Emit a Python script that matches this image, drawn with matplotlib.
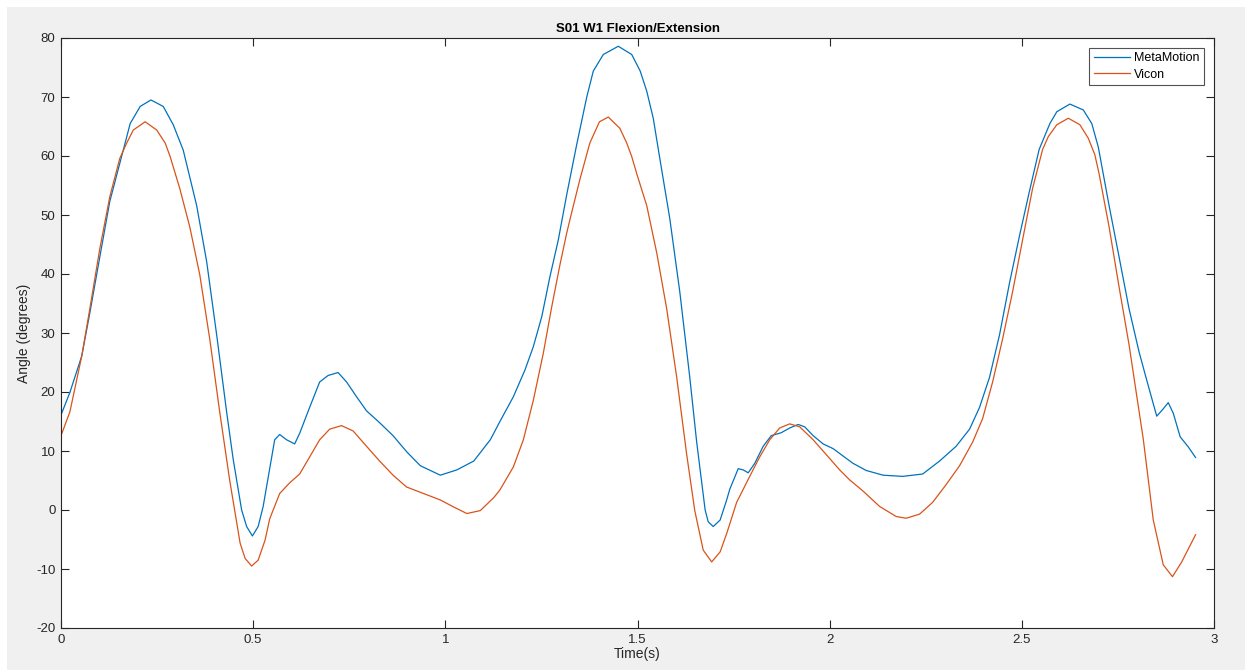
import matplotlib
matplotlib.use("Agg")
from matplotlib import pyplot as plt
from matplotlib.patches import Rectangle

plt.rcParams['font.family'] = ['Liberation Sans', 'DejaVu Sans']
plt.rcParams['axes.unicode_minus'] = False

# MetaMotion (blue) - time and angle
t_meta = [0.0, 0.023, 0.054, 0.075, 0.101, 0.127, 0.162, 0.180, 0.206, 0.234,
          0.266, 0.292, 0.318, 0.353, 0.379, 0.405, 0.431, 0.448, 0.470, 0.483,
          0.498, 0.513, 0.526, 0.556, 0.569, 0.587, 0.608, 0.621, 0.647, 0.673,
          0.695, 0.721, 0.743, 0.769, 0.795, 0.829, 0.864, 0.899, 0.935, 0.987,
          1.030, 1.074, 1.117, 1.142, 1.177, 1.207, 1.229, 1.251, 1.272, 1.294,
          1.316, 1.342, 1.368, 1.385, 1.411, 1.450, 1.485, 1.507, 1.524, 1.541,
          1.558, 1.584, 1.610, 1.636, 1.654, 1.676, 1.684, 1.697, 1.715, 1.732,
          1.740, 1.762, 1.775, 1.788, 1.805, 1.827, 1.848, 1.874, 1.896, 1.918,
          1.935, 1.957, 1.983, 2.009, 2.040, 2.061, 2.095, 2.139, 2.190, 2.242,
          2.286, 2.329, 2.364, 2.390, 2.416, 2.442, 2.468, 2.494, 2.519, 2.545,
          2.573, 2.591, 2.625, 2.660, 2.682, 2.699, 2.727, 2.753, 2.779, 2.805,
          2.825, 2.851, 2.866, 2.881, 2.894, 2.912, 2.933, 2.952]
metamotion = [16.1, 19.9, 26.1, 33.4, 42.9, 52.3, 61.0, 65.5, 68.4, 69.5,
              68.4, 65.3, 61.0, 51.6, 42.1, 29.7, 16.6, 8.6, 0.0, -2.8,
              -4.4, -2.8, 0.6, 11.9, 12.8, 11.9, 11.2, 13.0, 17.4, 21.7,
              22.8, 23.3, 21.7, 19.2, 16.8, 14.8, 12.6, 9.9, 7.5, 5.9,
              6.8, 8.3, 11.9, 15.0, 19.2, 23.7, 27.7, 32.8, 39.5, 45.8,
              53.5, 62.0, 70.0, 74.4, 77.2, 78.6, 77.2, 74.4, 71.0, 66.4,
              59.6, 49.4, 37.0, 22.5, 11.5, 0.0, -2.0, -2.8, -1.7, 1.7,
              3.5, 7.0, 6.8, 6.3, 7.9, 10.8, 12.6, 13.1, 13.9, 14.5,
              14.1, 12.6, 11.2, 10.4, 8.9, 7.9, 6.7, 5.9, 5.7, 6.1,
              8.3, 10.8, 13.7, 17.4, 22.5, 29.7, 38.5, 46.5, 53.8, 61.1,
              65.5, 67.5, 68.8, 67.8, 65.5, 61.5, 51.6, 42.9, 34.1, 26.8,
              22.0, 15.9, 17.0, 18.2, 16.4, 12.4, 10.7, 8.9]

# Vicon (orange)
t_vicon = [0.0, 0.023, 0.054, 0.075, 0.101, 0.127, 0.153, 0.171, 0.188, 0.219,
           0.249, 0.271, 0.284, 0.309, 0.335, 0.361, 0.387, 0.413, 0.439, 0.466,
           0.479, 0.496, 0.513, 0.531, 0.543, 0.569, 0.595, 0.621, 0.647, 0.673,
           0.699, 0.730, 0.760, 0.795, 0.829, 0.864, 0.899, 0.935, 0.987, 1.022,
           1.056, 1.091, 1.126, 1.142, 1.177, 1.203, 1.229, 1.255, 1.277, 1.298,
           1.316, 1.329, 1.350, 1.376, 1.401, 1.424, 1.454, 1.472, 1.485, 1.498,
           1.524, 1.550, 1.576, 1.602, 1.628, 1.649, 1.671, 1.693, 1.715, 1.732,
           1.758, 1.792, 1.818, 1.844, 1.870, 1.896, 1.922, 1.957, 1.991, 2.026,
           2.052, 2.087, 2.130, 2.173, 2.199, 2.234, 2.268, 2.303, 2.338, 2.372,
           2.398, 2.424, 2.450, 2.476, 2.502, 2.528, 2.554, 2.569, 2.591, 2.621,
           2.651, 2.673, 2.690, 2.701, 2.727, 2.753, 2.779, 2.794, 2.816, 2.842,
           2.868, 2.892, 2.916, 2.952]
vicon = [12.6, 16.6, 26.1, 34.1, 44.3, 53.1, 59.6, 62.2, 64.4, 65.8,
         64.4, 62.2, 59.9, 54.5, 48.0, 39.9, 29.0, 16.6, 5.0, -5.6,
         -8.2, -9.5, -8.5, -5.1, -1.5, 2.8, 4.6, 6.1, 9.0, 11.9,
         13.7, 14.3, 13.4, 10.8, 8.3, 5.9, 3.9, 3.0, 1.7, 0.5,
         -0.6, -0.1, 2.1, 3.4, 7.3, 11.9, 18.6, 26.6, 34.5, 41.5,
         47.0, 50.5, 56.0, 62.2, 65.8, 66.6, 64.7, 62.2, 59.9, 57.0,
         51.6, 43.6, 34.1, 22.5, 9.4, -0.1, -6.8, -8.8, -7.1, -4.0,
         1.3, 5.7, 9.0, 11.9, 13.9, 14.6, 14.1, 11.9, 9.4, 6.8,
         5.1, 3.2, 0.6, -1.1, -1.4, -0.7, 1.3, 4.3, 7.5, 11.5,
         15.5, 21.7, 29.0, 37.0, 45.8, 54.5, 61.1, 63.3, 65.3, 66.4,
         65.3, 63.0, 60.2, 57.0, 48.0, 37.8, 28.0, 21.5, 12.0, -1.7,
         -9.3, -11.3, -8.8, -4.2]

fig = plt.figure(figsize=(12.45, 6.70), dpi=100, facecolor='white')
# grey MATLAB figure background, leaving a thin white strip top/left
fig.patches.append(Rectangle((7 / 1245, 0), 1, 1 - 7 / 670, transform=fig.transFigure,
                             facecolor='#f0f0f0', edgecolor='none', zorder=-10))

ax = fig.add_axes([61 / 1245, 1 - 628 / 670, (1214 - 61) / 1245, (628 - 38) / 670])
ax.plot(t_meta, metamotion, color='#0072BD', linewidth=0.9, label='MetaMotion')
ax.plot(t_vicon, vicon, color='#D95319', linewidth=0.9, label='Vicon')

ax.set_xlim(0, 3)
ax.set_ylim(-20, 80)
ax.set_xticks([0, 0.5, 1, 1.5, 2, 2.5, 3])
ax.set_xticklabels(['0', '0.5', '1', '1.5', '2', '2.5', '3'])
ax.set_yticks(range(-20, 81, 10))

for s in ax.spines.values():
    s.set_color('#262626')
    s.set_linewidth(0.8)
ax.tick_params(direction='in', length=6, width=0.8, color='#262626',
               labelcolor='#262626', labelsize=9.5, top=True, right=True, pad=4)

ax.set_title('S01 W1 Flexion/Extension', fontsize=9.5, fontweight='bold', pad=4)
ax.set_xlabel('Time(s)', fontsize=10, color='#262626', labelpad=1)
ax.set_ylabel('Angle (degrees)', fontsize=10, color='#262626', labelpad=4)

leg = ax.legend(loc='upper right', fontsize=9, handlelength=2.9, frameon=True,
                fancybox=False, borderpad=0.35, labelspacing=0.35, handletextpad=0.35,
                borderaxespad=0.8)
leg.get_frame().set_edgecolor('#262626')
leg.get_frame().set_linewidth(0.8)

fig.savefig('out.png', dpi=100, facecolor=fig.get_facecolor())
